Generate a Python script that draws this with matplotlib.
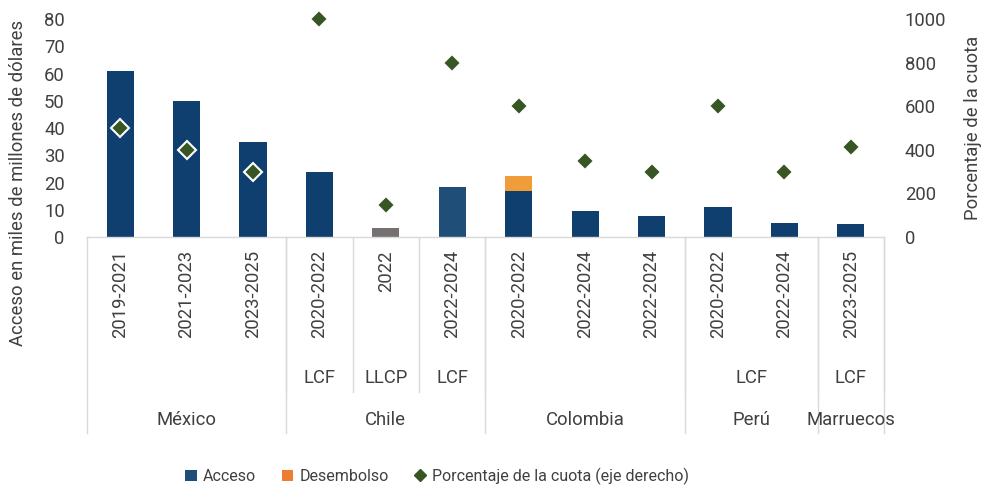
import matplotlib
matplotlib.use("Agg")
import matplotlib.pyplot as plt
from matplotlib.patches import Patch
from matplotlib.lines import Line2D

plt.rcParams['font.family'] = ['Roboto', 'DejaVu Sans']

# ---- data ----
periods = ['2019-2021', '2021-2023', '2023-2025',
           '2020-2022', '2022', '2022-2024',
           '2020-2022', '2022-2024', '2022-2024',
           '2020-2022', '2022-2024',
           '2023-2025']
acceso = [61, 50, 35, 23.7, 3.2, 18.5, 17.0, 9.7, 7.8, 10.9, 5.1, 4.8]
desembolso = [0, 0, 0, 0, 0, 0, 5.5, 0, 0, 0, 0, 0]
cuota = [500, 400, 300, 1000, 145, 800, 600, 350, 300, 600, 300, 415]
programs = ['', 'LCF', 'LLCP', 'LCF', '', 'LCF', 'LCF']
program_sizes = [3, 1, 1, 1, 3, 2, 1]
countries = ['México', 'Chile', 'Colombia', 'Perú', 'Marruecos']
country_sizes = [3, 3, 3, 2, 1]

# ---- styles ----
navy = '#0e3f6e'
bar_colors = [navy, navy, navy, navy, '#767171', '#1f4e79',
              navy, navy, navy, navy, navy, navy]
orange = '#f09c38'
green = '#375623'
grid_c = '#d9d9d9'
txt_c = '#404040'
FS = 13.3

fig = plt.figure(figsize=(9.85, 4.87), dpi=100)
W, H = 985, 487
x0, x1, ybot, ytop = 87, 884, 237, 19
ax = fig.add_axes([x0 / W, 1 - ybot / H, (x1 - x0) / W, (ybot - ytop) / H])
ax2 = ax.twinx()

x = list(range(len(periods)))
ax.bar(x, acceso, width=0.41, color=bar_colors, zorder=2)
ax.bar(x, desembolso, width=0.41, bottom=acceso, color=orange, zorder=2)
ax2.plot(x, cuota, linestyle='none', marker='D', markersize=9,
         markerfacecolor=green, markeredgecolor='white', markeredgewidth=1.5,
         zorder=3, clip_on=False)

ax.set_xlim(-0.5, len(periods) - 0.5)
ax.set_ylim(0, 80)
ax2.set_ylim(0, 1000)
ax.set_yticks(range(0, 81, 10))
ax2.set_yticks(range(0, 1001, 200))
ax.set_xticks([])
for a in (ax, ax2):
    for s in ('top', 'left', 'right'):
        a.spines[s].set_visible(False)
    a.spines['bottom'].set_color(grid_c)
    a.spines['bottom'].set_linewidth(1.0)
ax2.spines['bottom'].set_visible(False)
ax.tick_params(axis='y', length=0, pad=16, labelsize=FS, labelcolor=txt_c)
ax2.tick_params(axis='y', length=0, pad=15, labelsize=FS, labelcolor=txt_c)
ax.set_zorder(ax2.get_zorder() - 1)
ax.patch.set_visible(False)

ah = ybot - ytop
def ya(p):
    return (ybot - p) / ah

tr = ax.get_xaxis_transform()
for xi, lab in zip(x, periods):
    ax.text(xi, ya(250), lab, rotation=90, ha='center', va='top',
            fontsize=FS, color=txt_c, transform=tr, clip_on=False)

# program labels + separators
pos = -0.5
for lab, n in zip(programs, program_sizes):
    ax.text(pos + n / 2, ya(378), lab, ha='center', va='center',
            fontsize=FS, color=txt_c, transform=tr, clip_on=False)
    pos += n
    ax.plot([pos, pos], [ya(ybot), ya(392)], color=grid_c, lw=1,
            transform=tr, clip_on=False)

pos = -0.5
ax.plot([pos, pos], [ya(ybot), ya(433)], color=grid_c, lw=1,
        transform=tr, clip_on=False)
for lab, n in zip(countries, country_sizes):
    ax.text(pos + n / 2, ya(420), lab, ha='center', va='center',
            fontsize=FS, color=txt_c, transform=tr, clip_on=False)
    pos += n
    ax.plot([pos, pos], [ya(ybot), ya(433)], color=grid_c, lw=1,
            transform=tr, clip_on=False)

fig.text(18 / W, 1 - 183 / H, 'Acceso en miles de millones de dólares',
         rotation=90, ha='center', va='center', fontsize=FS, color=txt_c)
fig.text(973 / W, 1 - 128 / H, 'Porcentaje de la cuota',
         rotation=90, ha='center', va='center', fontsize=FS, color=txt_c)

handles = [Patch(facecolor='#1f4e79', label='Acceso'),
           Patch(facecolor='#ed7d31', label='Desembolso'),
           Line2D([], [], linestyle='none', marker='D', markersize=6,
                  markerfacecolor=green, markeredgecolor=green,
                  label='Porcentaje de la cuota (eje derecho)')]
leg = fig.legend(handles=handles, loc='center', ncol=3,
                 bbox_to_anchor=(437 / W, 1 - 476 / H), frameon=False,
                 fontsize=11.5, handlelength=0.7, handleheight=0.7,
                 handletextpad=0.4, columnspacing=1.6)
for t in leg.get_texts():
    t.set_color(txt_c)

fig.savefig('out.png', dpi=100)
